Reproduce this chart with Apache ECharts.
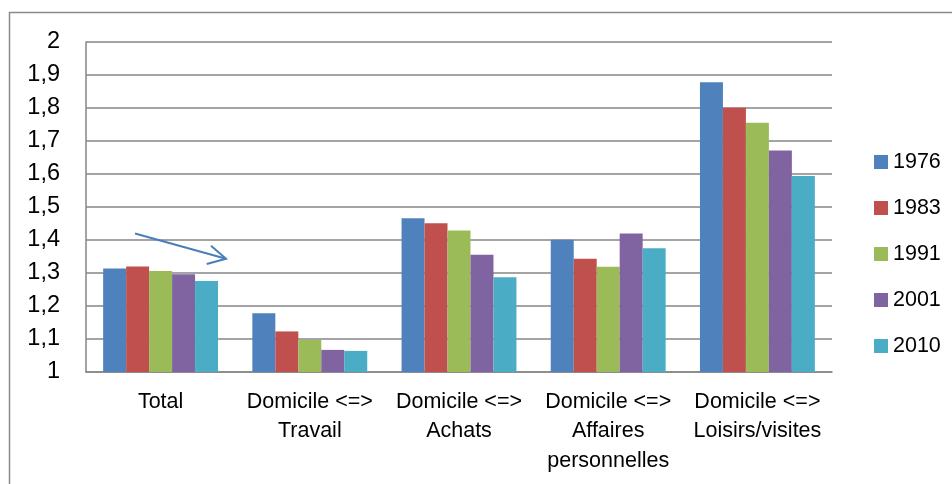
<!DOCTYPE html>
<html>
<head>
<meta charset="utf-8">
<script src="https://cdn.jsdelivr.net/npm/echarts@6/dist/echarts.min.js"></script>
<style>
html,body{margin:0;padding:0;background:#fff;}
#c{width:952px;height:484px;}
</style>
</head>
<body>
<div id="c"></div>
<script>
const categories = ['Total', 'Domicile <=>\nTravail', 'Domicile <=>\nAchats', 'Domicile <=>\nAffaires\npersonnelles', 'Domicile <=>\nLoisirs/visites'];
const years = ['1976', '1983', '1991', '2001', '2010'];
const v1976 = [1.314, 1.178, 1.466, 1.401, 1.878];
const v1983 = [1.320, 1.123, 1.451, 1.343, 1.801];
const v1991 = [1.306, 1.097, 1.429, 1.319, 1.755];
const v2001 = [1.296, 1.067, 1.355, 1.420, 1.671];
const v2010 = [1.276, 1.064, 1.287, 1.375, 1.594];
const seriesValues = [v1976, v1983, v1991, v2001, v2010];
const colors = ['#4F81BD', '#C0504D', '#9BBB59', '#8064A2', '#4BACC6'];

const FONT = '"Liberation Sans", Arial, sans-serif';
const chart = echarts.init(document.getElementById('c'), null, {renderer: 'canvas'});
chart.setOption({
  animation: false,
  color: colors,
  grid: {left: 86, right: 120, top: 42, bottom: 112, containLabel: false},
  legend: {
    orient: 'vertical',
    left: 874,
    top: 151,
    padding: 0,
    itemWidth: 14,
    itemHeight: 14,
    itemGap: 24,
    icon: 'rect',
    data: years,
    textStyle: {fontFamily: FONT, fontSize: 21.5, color: '#000', padding: [0, 0, 0, 0]}
  },
  xAxis: {
    type: 'category',
    data: categories,
    axisLine: {show: true, lineStyle: {color: '#868686', width: 1.5}},
    axisTick: {show: false},
    axisLabel: {fontFamily: FONT, fontSize: 21.5, color: '#000', lineHeight: 29.5, margin: 15, interval: 0}
  },
  yAxis: {
    type: 'value',
    min: 1, max: 2, interval: 0.1,
    axisLine: {show: true, lineStyle: {color: '#868686', width: 1.5}},
    axisTick: {show: false},
    splitLine: {show: true, lineStyle: {color: '#868686', width: 1.5}},
    axisLabel: {
      fontFamily: FONT, fontSize: 23.5, color: '#000', margin: 26,
      formatter: v => String(Math.round(v * 10) / 10).replace('.', ',')
    }
  },
  series: years.map((y, i) => ({
    name: y,
    type: 'bar',
    data: seriesValues[i],
    barGap: '0%',
    barCategoryGap: '23%',
    itemStyle: {color: colors[i]}
  })),
  graphic: [
    {type: 'rect', shape: {x: 9.5, y: 12.5, width: 1200, height: 1000}, style: {fill: 'none', stroke: '#8a8a8a', lineWidth: 1.5}, z: -1},
    {type: 'polyline', shape: {points: [[135, 233.5], [226, 258.7]]}, style: {stroke: '#4A7EBB', lineWidth: 2, fill: 'none'}, z: 100},
    {type: 'polyline', shape: {points: [[211, 245.7], [226, 258.7], [206.7, 264]]}, style: {stroke: '#4A7EBB', lineWidth: 2, fill: 'none'}, z: 100}
  ]
});
</script>
</body>
</html>
